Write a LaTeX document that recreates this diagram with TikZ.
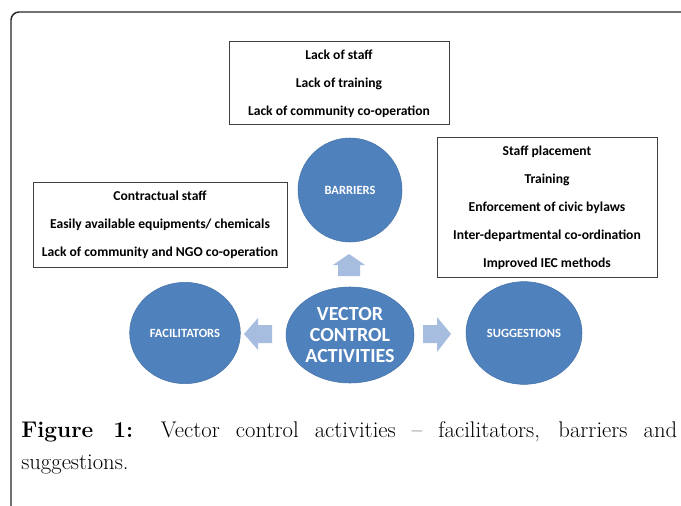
\documentclass[tikz,border=0pt]{standalone}
\usepackage{fontspec}
\newfontfamily\calibri{Carlito}
\usetikzlibrary{shapes.geometric}
\definecolor{circblue}{HTML}{4F81BD}
\definecolor{arrblue}{HTML}{A7BDE0}
\begin{document}
\begin{tikzpicture}[x=0.75pt,y=-0.75pt,
  infobox/.style={draw=black!75, line width=0.75pt, fill=white, align=center,
    font=\calibri\bfseries\fontsize{10.2}{21}\selectfont, inner sep=0pt},
  bubble/.style={ellipse, fill=circblue, draw=circblue!90!black, line width=0.4pt,
    inner sep=0pt, text=white, align=center},
  small/.style={font=\calibri\bfseries\fontsize{9.4}{11}\selectfont},
  big/.style={font=\calibri\bfseries\fontsize{15}{16}\selectfont},
  blockarrow/.style={fill=arrblue, draw=none}
]
\useasboundingbox (0,0) rectangle (681,506);
\fill[white] (0,0) rectangle (681,506);
% frame
\draw[line width=1.1pt, black!85, rounded corners=6pt] (11,507) -- (11,12) -- (682,12);

% boxes
\node[infobox, minimum width=165pt, minimum height=62.25pt] (barbox) at (339,83.5)
  {Lack of staff\\Lack of training\\Lack of community co-operation};
\node[infobox, minimum width=190.5pt, minimum height=63.75pt] (facbox) at (160,224.5)
  {Contractual staff\\Easily available equipments/ chemicals\\Lack of community and NGO co-operation};
\node[infobox, minimum width=165pt, minimum height=104.25pt] (sugbox) at (547,207.5)
  {Staff placement\\Training\\Enforcement of civic bylaws\\Inter-departmental co-ordination\\Improved IEC methods};

% bubbles
\node[bubble, small, minimum width=78pt, minimum height=78pt] (bar) at (350,190) {BARRIERS};
\node[bubble, small, minimum width=83pt, minimum height=76pt] (fac) at (185,333) {FACILITATORS};
\node[bubble, big, minimum width=96pt, minimum height=72pt] (cen) at (350,335) {VECTOR\\CONTROL\\ACTIVITIES};
\node[bubble, small, minimum width=87pt, minimum height=77pt] (sug) at (524,333) {SUGGESTIONS};

% block arrows
\fill[blockarrow] (349,254) -- (365,265) -- (360,265) -- (360,276) -- (338,276) -- (338,265) -- (333,265) -- cycle;
\fill[blockarrow] (244,334) -- (258,318) -- (258,325) -- (272,325) -- (272,343) -- (258,343) -- (258,350) -- cycle;
\fill[blockarrow] (451,334) -- (437,317) -- (437,325) -- (423,325) -- (423,343) -- (437,343) -- (437,352) -- cycle;

% caption
\node[anchor=north west, inner sep=0pt, text width=492pt, align=justify,
  font=\fontsize{17}{24}\selectfont] (cap) at (21,421)
  {\textbf{Figure 1:} Vector control activities -- facilitators, barriers and\linebreak suggestions.};
\end{tikzpicture}
\end{document}
